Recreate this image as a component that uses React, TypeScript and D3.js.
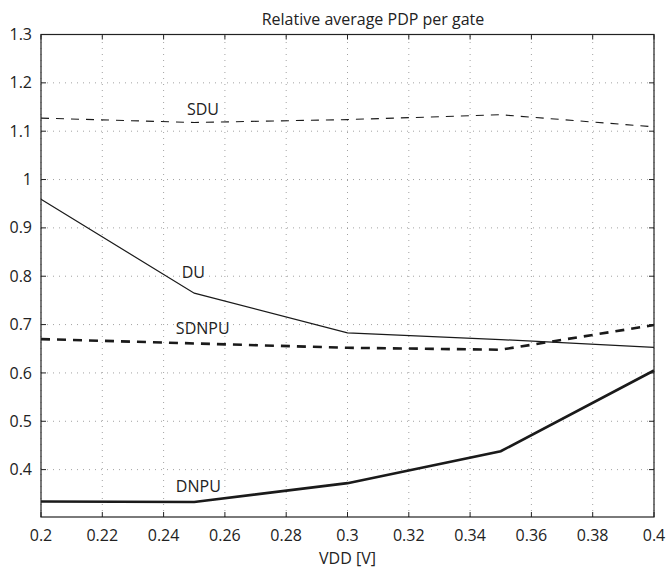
import React from "react";
import * as d3 from "d3";

const vdd = [0.2, 0.25, 0.3, 0.35, 0.4];
const sdu = [1.127, 1.118, 1.124, 1.134, 1.109];
const du = [0.959, 0.765, 0.683, 0.669, 0.653];
const sdnpu = [0.67, 0.661, 0.652, 0.648, 0.699];
const dnpu = [0.334, 0.333, 0.372, 0.438, 0.605];

const xTicks = [0.2, 0.22, 0.24, 0.26, 0.28, 0.3, 0.32, 0.34, 0.36, 0.38, 0.4];
const xTickLabels = ["0.2", "0.22", "0.24", "0.26", "0.28", "0.3", "0.32", "0.34", "0.36", "0.38", "0.4"];
const yTicks = [0.4, 0.5, 0.6, 0.7, 0.8, 0.9, 1.0, 1.1, 1.2, 1.3];
const yTickLabels = ["0.4", "0.5", "0.6", "0.7", "0.8", "0.9", "1", "1.1", "1.2", "1.3"];

// label anchor points in data coords (text baseline start)
const seriesLabels = [
    { name: "SDU", x: 0.2476, y: 1.133 },
    { name: "DU", x: 0.2459, y: 0.796 },
    { name: "SDNPU", x: 0.244, y: 0.68 },
    { name: "DNPU", x: 0.244, y: 0.354 },
];

export default function App() {
    const ref = React.useRef<SVGSVGElement>(null);
    React.useEffect(() => {
        const width = 666;
        const height = 571;
        const marginTop = 34.5;
        const marginRight = 12;
        const marginBottom = 54;
        const marginLeft = 41;
        const font = "'Open Sans', sans-serif";
        const ink = "#222";

        const svg = d3.select(ref.current);
        svg.selectAll("*").remove();
        svg.attr("width", width).attr("height", height);

        const x = d3.scaleLinear().domain([0.2, 0.4]).range([marginLeft, width - marginRight]);
        const y = d3.scaleLinear().domain([0.302, 1.3]).range([height - marginBottom, marginTop]);
        const [x0, x1] = x.range();
        const [y0, y1] = y.range();

        svg.append("rect").attr("width", width).attr("height", height).attr("fill", "white");

        // dotted grid
        const grid = svg.append("g").attr("stroke", "#8a8a8a").attr("stroke-width", 0.8).attr("stroke-dasharray", "1 5");
        grid.selectAll("line.gx").data(xTicks).join("line")
            .attr("x1", (d) => x(d)).attr("x2", (d) => x(d)).attr("y1", y0).attr("y2", y1);
        grid.selectAll("line.gy").data(yTicks).join("line")
            .attr("x1", x0).attr("x2", x1).attr("y1", (d) => y(d)).attr("y2", (d) => y(d));

        // inner ticks on all four sides
        const ticks = svg.append("g").attr("stroke", ink).attr("stroke-width", 1);
        xTicks.forEach((t) => {
            ticks.append("line").attr("x1", x(t)).attr("x2", x(t)).attr("y1", y0).attr("y2", y0 - 5);
            ticks.append("line").attr("x1", x(t)).attr("x2", x(t)).attr("y1", y1).attr("y2", y1 + 5);
        });
        yTicks.forEach((t) => {
            ticks.append("line").attr("x1", x0).attr("x2", x0 + 5).attr("y1", y(t)).attr("y2", y(t));
            ticks.append("line").attr("x1", x1).attr("x2", x1 - 5).attr("y1", y(t)).attr("y2", y(t));
        });

        // tick labels
        svg.append("g").selectAll("text").data(xTicks).join("text")
            .attr("x", (d) => x(d)).attr("y", y0 + 24)
            .attr("text-anchor", "middle")
            .attr("font-family", font).attr("font-size", 16).attr("fill", ink)
            .text((d, i) => xTickLabels[i]);
        svg.append("g").selectAll("text").data(yTicks).join("text")
            .attr("x", x0 - 9).attr("y", (d) => y(d)).attr("dy", "0.35em")
            .attr("text-anchor", "end")
            .attr("font-family", font).attr("font-size", 16).attr("fill", ink)
            .text((d, i) => yTickLabels[i]);

        // series
        const line = d3.line<number>().x((d, i) => x(vdd[i])).y((d) => y(d));
        const series = [
            { values: sdu, w: 1.1, dash: "8 7" },
            { values: du, w: 1.2, dash: null },
            { values: sdnpu, w: 2.6, dash: "9 7" },
            { values: dnpu, w: 2.6, dash: null },
        ];
        svg.append("g").selectAll("path").data(series).join("path")
            .attr("d", (d) => line(d.values))
            .attr("fill", "none")
            .attr("stroke", "#1a1a1a")
            .attr("stroke-width", (d) => d.w)
            .attr("stroke-dasharray", (d) => d.dash);

        svg.append("g").selectAll("text").data(seriesLabels).join("text")
            .attr("x", (d) => x(d.x)).attr("y", (d) => y(d.y))
            .attr("font-family", font).attr("font-size", 16).attr("fill", ink)
            .text((d) => d.name);

        // axes box
        svg.append("rect")
            .attr("x", x0).attr("y", y1).attr("width", x1 - x0).attr("height", y0 - y1)
            .attr("fill", "none").attr("stroke", ink).attr("stroke-width", 1.2);

        // title and x label
        svg.append("text")
            .attr("x", 373).attr("y", 25)
            .attr("text-anchor", "middle")
            .attr("font-family", font).attr("font-size", 16).attr("fill", ink)
            .text("Relative average PDP per gate");
        svg.append("text")
            .attr("x", (x0 + x1) / 2).attr("y", 564)
            .attr("text-anchor", "middle")
            .attr("font-family", font).attr("font-size", 16).attr("fill", ink)
            .text("VDD [V]");
    }, []);

    return <svg ref={ref} style={{ position: "absolute", left: 0, top: 0 }}></svg>;
}
